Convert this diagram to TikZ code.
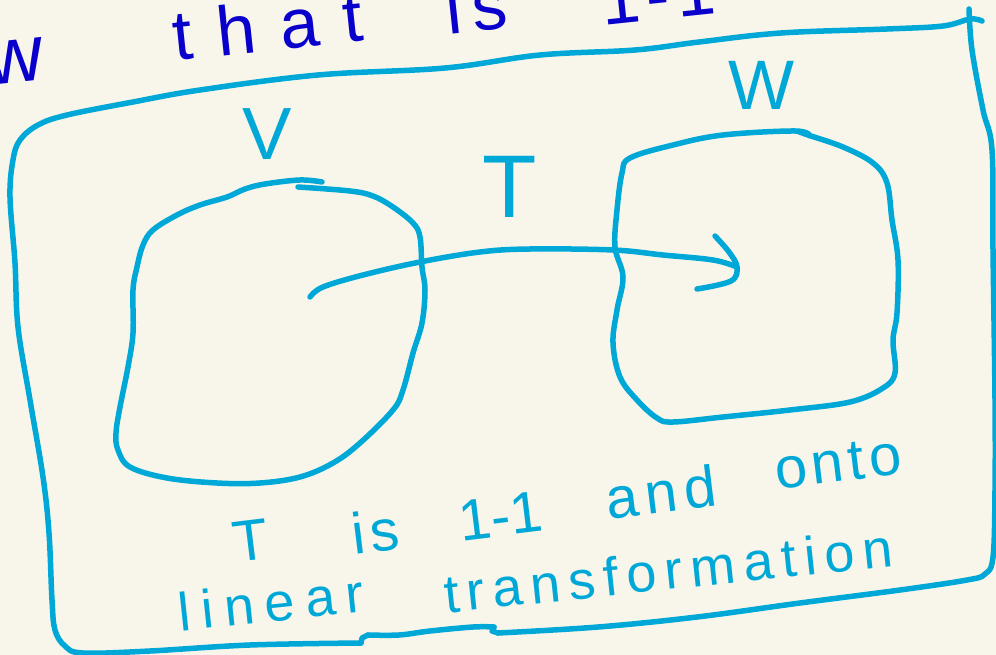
\documentclass[tikz,border=0pt]{standalone}
\usepackage{fontspec}
\newfontfamily\hand{Liberation Sans}
\definecolor{paper}{HTML}{F8F6EB}
\definecolor{ink}{HTML}{00A8D8}
\definecolor{navy}{HTML}{0A00CC}
\newcommand\lsp[2]{{\addfontfeatures{LetterSpace=#1}\kern\dimexpr #1em/100\relax #2}}
\tikzset{
  pen/.style={draw=ink, line width=5.5pt, line cap=round, line join=round},
  toptext/.style={text=navy, inner sep=0pt, anchor=base, rotate=6, font=\hand\fontsize{70}{74}\selectfont},
  capline/.style={text=ink, inner sep=0pt, anchor=base, font=\hand\fontsize{58}{60}\selectfont},
  capline2/.style={text=ink, inner sep=0pt, anchor=base, rotate=6, font=\hand\fontsize{54}{58}\selectfont},
  spacelabel/.style={text=ink, inner sep=0pt, anchor=base},
}
\begin{document}
\begin{tikzpicture}[x=1pt,y=-1pt]
\useasboundingbox (0,0) rectangle (996,655);
\fill[paper] (0,0) rectangle (996,655);
\clip (0,0) rectangle (996,655);

% top handwritten line (cut off at the top)
\node[toptext, font=\hand\fontsize{80}{84}\selectfont] (tw) at (17,82) {w};
\node[toptext] (tthat) at (258,52) {\lsp{35}{that}};
\node[toptext] (tis) at (474,32) {\lsp{15}{is}};
\node[toptext] (tone) at (657,20) {\lsp{10}{1-1}};

% outer frame
\draw[pen] plot[smooth, tension=0.6] coordinates {(969,9) (972,50) (983,110) (992,150) (993,250) (995,400) (995,490) (993,557) (985,574) (967,580) (900,590) (800,603) (697,617) (598,627) (498,633)};
\draw[pen] (498,633) -- (492,631) -- (494,627);
\draw[pen] plot[smooth, tension=0.6] coordinates {(494,627) (473,627) (430,631) (399,635) (368,635)};
\draw[pen] (368,635) -- (362,638) -- (361,643);
\draw[pen] plot[smooth, tension=0.6] coordinates {(361,643) (250,645) (150,651) (83,653) (65,646) (55,630) (52,600) (49,533) (43,477) (30,400) (18,327) (15,263) (10,197) (13,160) (20,140) (38,125) (67,115) (133,102) (200,90) (318,75) (445,68) (540,55) (635,50) (699,42) (781,33) (887,29) (943,26) (970,19) (982,21)};

% space V
\draw[pen] plot[smooth, tension=0.6] coordinates {(298,187) (350,191) (373,196) (393,207) (413,223) (420,237) (422,267) (425,290) (422,323) (413,353) (403,390) (393,410) (360,443) (333,463) (300,477) (260,483) (217,483) (167,478) (130,467) (118,450) (116,433) (120,407) (128,367) (133,333) (133,290) (137,267) (143,245) (153,230) (177,215) (200,205) (227,197) (245,189) (265,184) (300,180) (322,182)};
\node[spacelabel, font=\hand\fontsize{74}{78}\selectfont] (V) at (267,160) {V};

% space W
\draw[pen] plot[smooth, tension=0.6] coordinates {(797,131) (808,135) (843,147) (873,163) (887,183) (892,220) (898,260) (897,313) (893,340) (895,373) (883,388) (850,402) (790,410) (723,417) (673,422) (657,418) (637,400) (620,377) (613,343) (617,310) (623,277) (615,247) (617,210) (622,173) (630,158) (673,145) (723,135) (795,131) (810,136)};
\node[spacelabel, font=\hand\fontsize{70}{74}\selectfont] (W) at (762,110) {W};

% map T
\coordinate (Tfrom) at (310,297);
\coordinate (Tto) at (737,267);
\draw[pen] plot[smooth, tension=0.6] coordinates {(Tfrom) (323,287) (363,275) (420,262) (480,252) (530,249) (613,250) (663,255) (713,260) (Tto)};
\draw[pen] plot[smooth, tension=0.6] coordinates {(715,236) (729,252) (Tto) (731,281) (697,289)};
\node[spacelabel, font=\hand\fontsize{89}{92}\selectfont] (T) at (510,218) {T};

% caption
\node[capline, rotate=7] (c1) at (253,560) {T};
\node[capline, rotate=7] (c2) at (375,552) {\lsp{10}{is}};
\node[capline, rotate=7] (c3) at (503,536) {1-1};
\node[capline, rotate=7] (c4) at (660,513) {\lsp{12}{and}};
\node[capline, rotate=7] (c5) at (838,482) {\lsp{8}{onto}};
\node[capline2] (c6) at (268,622) {\lsp{20}{linear}};
\node[capline2] (c7) at (666,590) {\lsp{15}{transformation}};
\end{tikzpicture}
\end{document}
